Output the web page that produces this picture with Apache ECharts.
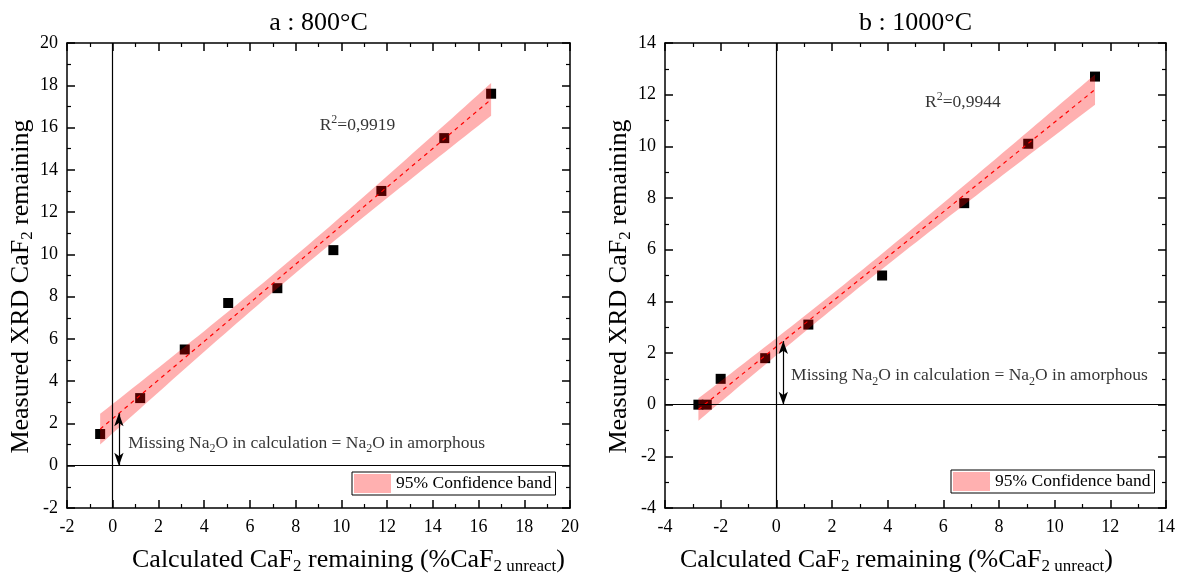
<!DOCTYPE html>
<html><head><meta charset="utf-8">
<script src="https://cdn.jsdelivr.net/npm/echarts@6/dist/echarts.min.js"></script>
<style>html,body{margin:0;padding:0;background:#fff}#c{width:1180px;height:581px}</style>
</head><body><div id="c"></div>
<script>
// ---- data ----
const panelTitles = ['a : 800°C', 'b : 1000°C'];
const calc800 = [-0.55, 1.2, 3.15, 5.05, 7.2, 9.65, 11.75, 14.5, 16.55];
const xrd800  = [1.5, 3.2, 5.5, 7.7, 8.4, 10.2, 13.0, 15.5, 17.6];
const calc1000 = [-2.8, -2.5, -2.0, -0.4, 1.15, 3.8, 6.75, 9.05, 11.45];
const xrd1000  = [0, 0, 1.0, 1.8, 3.1, 5.0, 7.8, 10.1, 12.7];
const r2Values = ['0,9919', '0,9944'];
const xTicks800 = [-2, 0, 2, 4, 6, 8, 10, 12, 14, 16, 18, 20];
const yTicks800 = [-2, 0, 2, 4, 6, 8, 10, 12, 14, 16, 18, 20];
const xTicks1000 = [-4, -2, 0, 2, 4, 6, 8, 10, 12, 14];
const yTicks1000 = [-4, -2, 0, 2, 4, 6, 8, 10, 12, 14];
const bandName = '95% Confidence band';
const annotationText = 'Missing Na{sub|2}O in calculation = Na{sub|2}O in amorphous';
// annotation anchors (data coords): [arrowX, textX, textY, r2X, r2Y]
const anchors = [[0.27, 0.68, 1.06, 9.05, 16.1], [0.25, 0.53, 1.13, 5.34, 11.7]];

const FONT = '"Liberation Serif", "Times New Roman", serif';
const tTable = {7: 2.3646};

function fit(xs, ys) {
  const n = xs.length;
  const xbar = xs.reduce((a, b) => a + b, 0) / n;
  const ybar = ys.reduce((a, b) => a + b, 0) / n;
  let sxx = 0, sxy = 0;
  xs.forEach((x, i) => { sxx += (x - xbar) ** 2; sxy += (x - xbar) * (ys[i] - ybar); });
  const b = sxy / sxx, a = ybar - b * xbar;
  let ssr = 0;
  xs.forEach((x, i) => { ssr += (ys[i] - a - b * x) ** 2; });
  const s = Math.sqrt(ssr / (n - 2));
  const t = tTable[n - 2] || 2.3646;
  const f = x => a + b * x;
  const hw = x => t * s * Math.sqrt(1 / n + (x - xbar) ** 2 / sxx);
  const xmin = Math.min(...xs), xmax = Math.max(...xs);
  const upper = [], lower = [];
  for (let k = 0; k <= 60; k++) {
    const x = xmin + (xmax - xmin) * k / 60;
    upper.push([x, f(x) + hw(x)]);
    lower.push([x, f(x) - hw(x)]);
  }
  return {f, upper, lower, xmin, xmax};
}

const panels = [
  {xs: calc800, ys: xrd800, xt: xTicks800, yt: yTicks800, grid: {left: 67, right: 610, top: 43, bottom: 73}, cx: 318.5, xPad: [0, 0, 0, 60]},
  {xs: calc1000, ys: xrd1000, xt: xTicks1000, yt: yTicks1000, grid: {left: 665, right: 14, top: 43, bottom: 73}, cx: 915.5, xPad: [0, 38, 0, 0]}
];

const grids = [], xAxes = [], yAxes = [], series = [], legends = [], graphics = [];

function axisBase(ticks, extra) {
  return Object.assign({
    type: 'value', min: ticks[0], max: ticks[ticks.length - 1], interval: ticks[1] - ticks[0],
    axisLine: {show: true, onZero: false, lineStyle: {color: '#000', width: 1.5}},
    axisTick: {show: true, inside: true, length: 8, lineStyle: {color: '#000', width: 1.5}},
    minorTick: {show: true, splitNumber: 2, length: 4, lineStyle: {color: '#000', width: 1.2}},
    splitLine: {show: false}, minorSplitLine: {show: false}
  }, extra);
}

panels.forEach((p, i) => {
  grids.push(Object.assign({containLabel: false, outerBoundsMode: 'none'}, p.grid));
  const fr = fit(p.xs, p.ys);
  const nameStyle = (pad) => ({fontFamily: FONT, fontSize: 26, color: '#000', lineHeight: 30, padding: pad,
    rich: {sub: {fontSize: 17, fontFamily: FONT, color: '#000', verticalAlign: 'bottom', lineHeight: 17}}});
  xAxes.push(axisBase(p.xt, {gridIndex: i, position: 'bottom',
    axisLabel: {fontFamily: FONT, fontSize: 18, color: '#000', margin: 10},
    name: 'Calculated CaF{sub|2} remaining (%CaF{sub|2 unreact})', nameLocation: 'middle', nameGap: 37,
    nameTextStyle: nameStyle(p.xPad)}));
  xAxes.push(axisBase(p.xt, {gridIndex: i, position: 'top', axisLabel: {show: false}}));
  yAxes.push(axisBase(p.yt, {gridIndex: i, position: 'left',
    axisLabel: {fontFamily: FONT, fontSize: 18, color: '#000', margin: 9},
    name: 'Measured XRD CaF{sub|2} remaining', nameLocation: 'middle', nameGap: 30,
    nameTextStyle: nameStyle([0, 22, 0, 0])}));
  yAxes.push(axisBase(p.yt, {gridIndex: i, position: 'right', axisLabel: {show: false}}));
  const xi = i * 2, yi = i * 2;
  // points
  series.push({type: 'scatter', xAxisIndex: xi, yAxisIndex: yi, symbol: 'rect', symbolSize: 10, z: 2,
    itemStyle: {color: '#000', opacity: 1}, data: p.xs.map((x, k) => [x, p.ys[k]]), silent: true,
    markLine: {silent: true, symbol: 'none', label: {show: false}, animation: false,
      lineStyle: {color: '#000', width: 1.2, type: 'solid'}, data: [{xAxis: 0}, {yAxis: 0}]}});
  // confidence band
  series.push({type: 'custom', name: bandName, xAxisIndex: xi, yAxisIndex: yi, z: 3, silent: true,
    itemStyle: {color: 'rgba(255,0,0,0.31)'}, data: [0],
    renderItem: (params, api) => {
      const pts = fr.upper.map(q => api.coord(q)).concat(fr.lower.slice().reverse().map(q => api.coord(q)));
      return {type: 'polygon', shape: {points: pts}, style: {fill: 'rgba(255,0,0,0.31)'}};
    }});
  // fit line + arrow
  const a = anchors[i];
  series.push({type: 'line', xAxisIndex: xi, yAxisIndex: yi, z: 4, silent: true, showSymbol: false, symbol: 'none',
    lineStyle: {color: '#ff0000', width: 1.2, type: [4, 4]},
    data: [[fr.xmin, fr.f(fr.xmin)], [fr.xmax, fr.f(fr.xmax)]],
    markLine: {silent: true, symbol: ['arrow', 'arrow'], symbolSize: [7, 13], label: {show: false}, animation: false,
      lineStyle: {color: '#000', width: 1.2, type: 'solid'},
      data: [[{coord: [a[0], 0]}, {coord: [a[0], fr.f(a[0])]}]]}});
  // text annotations
  series.push({type: 'scatter', xAxisIndex: xi, yAxisIndex: yi, z: 5, silent: true, symbolSize: 0,
    data: [
      {value: [a[1], a[2]], label: {formatter: annotationText}},
      {value: [a[3], a[4]], label: {formatter: 'R{sup|2}=' + r2Values[i]}}
    ],
    label: {show: true, position: 'right', distance: 0, fontFamily: FONT, fontSize: 17.5, color: '#000', lineHeight: 24,
      rich: {sub: {fontSize: 12, fontFamily: FONT, color: '#000', verticalAlign: 'bottom', lineHeight: 12},
             sup: {fontSize: 12, fontFamily: FONT, color: '#000', verticalAlign: 'top', lineHeight: 12}}}});
  legends.push({data: [bandName], left: i === 0 ? 352 : 951, top: i === 0 ? 472 : 470, orient: 'horizontal',
    icon: 'rect', itemWidth: 37, itemHeight: 19, itemGap: 0, padding: [2, 4, 2, 2],
    borderColor: '#000', borderWidth: 1, backgroundColor: '#fff', selectedMode: false,
    textStyle: {fontFamily: FONT, fontSize: 17.5, color: '#000'}});
  graphics.push({type: 'text', x: p.cx, y: 23, style: {text: panelTitles[i], font: '26px ' + FONT, fill: '#000',
    align: 'center', verticalAlign: 'middle'}});
});

const chart = echarts.init(document.getElementById('c'), null, {renderer: 'canvas'});
chart.setOption({
  animation: false,
  backgroundColor: '#fff',
  grid: grids, xAxis: xAxes, yAxis: yAxes, series: series, legend: legends, graphic: graphics
});
</script></body></html>
